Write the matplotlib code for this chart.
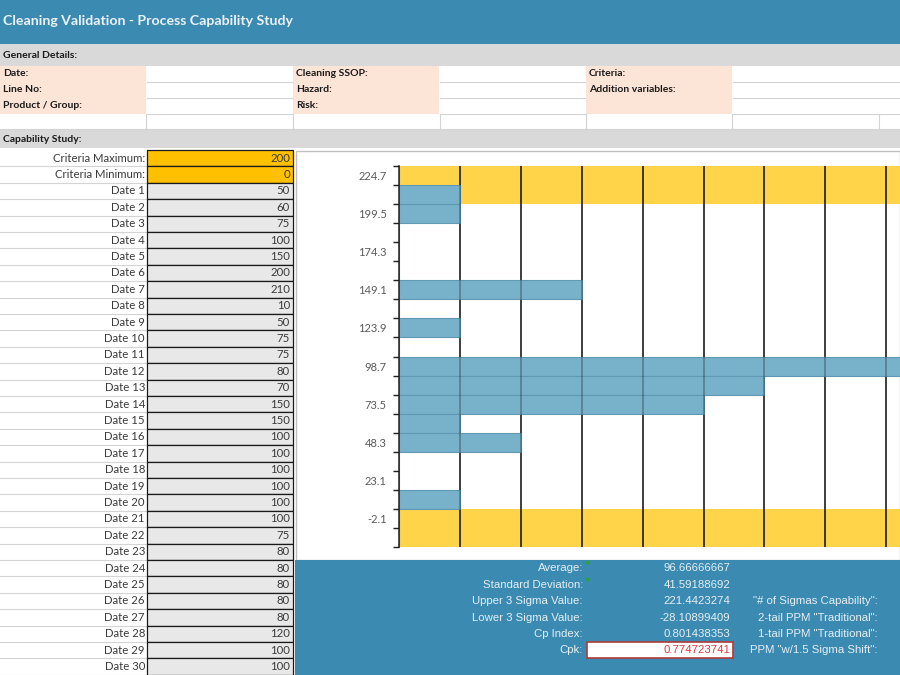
import matplotlib.pyplot as plt
import matplotlib.patches as patches

# values typed on the sheet
criteria_max = 200
criteria_min = 0
dates = ["Date %d" % i for i in range(1, 31)]
readings = [50, 60, 75, 100, 150, 200, 210, 10, 50, 75, 75, 80, 70, 150, 150,
            100, 100, 100, 100, 100, 100, 75, 80, 80, 80, 80, 80, 120, 100, 100]

# histogram shown in the chart (bin centres, top to bottom)
bin_labels = [224.7, 212.1, 199.5, 186.9, 174.3, 161.7, 149.1, 136.5, 123.9, 111.3,
              98.7, 86.1, 73.5, 60.9, 48.3, 35.7, 23.1, 10.5, -2.1, -14.7]
bin_counts = [0, 1, 1, 0, 0, 0, 3, 0, 1, 0, 9, 6, 5, 1, 2, 0, 0, 1, 0, 0]

stat_names = ["Average:", "Standard Deviation:", "Upper 3 Sigma Value:",
              "Lower 3 Sigma Value:", "Cp Index:", "Cpk:"]
stat_values = ["96.66666667", "41.59188692", "221.4423274", "-28.10899409",
               "0.801438353", "0.774723741"]
ppm_names = ['"# of Sigmas Capability":', '2-tail PPM "Traditional":',
             '1-tail PPM "Traditional":', 'PPM "w/1.5 Sigma Shift":']

TEAL = "#3A8AB2"
GREY = "#D9D9D9"
PEACH = "#FCE4D6"
LINE = "#D4D4D4"
SHEET_FONT = ["Lato", "DejaVu Sans"]
NARROW_FONT = ["Liberation Sans Narrow", "Liberation Sans", "DejaVu Sans"]

fig = plt.figure(figsize=(9, 6.75), dpi=100)
fig.patch.set_facecolor("white")

# whole sheet drawn in pixel coordinates
sh = fig.add_axes([0, 0, 1, 1])
sh.set_xlim(0, 900)
sh.set_ylim(675, 0)
sh.axis("off")


def rect(x0, y0, x1, y1, fc, ec="none", lw=0, z=1):
    sh.add_patch(patches.Rectangle((x0, y0), x1 - x0, y1 - y0, fc=fc, ec=ec, lw=lw, zorder=z))


def hline(y, x0, x1, c=LINE, lw=0.8, z=2):
    sh.plot([x0, x1], [y, y], color=c, lw=lw, zorder=z)


def vline(x, y0, y1, c=LINE, lw=0.8, z=2):
    sh.plot([x, x], [y0, y1], color=c, lw=lw, zorder=z)


# title bar
rect(0, 0, 900, 44, TEAL)
sh.text(3, 21, "Cleaning Validation - Process Capability Study", color="#EAF2F8",
        fontsize=10.2, fontweight="bold", va="center", family=SHEET_FONT)

# general details block
rect(0, 44, 900, 66, GREY)
bold = dict(fontsize=7.5, fontweight="bold", va="center", family=SHEET_FONT, color="#1A1A1A")
sh.text(3, 56, "General Details:", **bold)
rect(0, 66, 146, 114, PEACH)
rect(293, 66, 439, 114, PEACH)
rect(586, 66, 732, 114, PEACH)
for y in [82, 98, 114]:
    hline(y, 147, 292)
    hline(y, 440, 585)
    hline(y, 733, 900)
hline(129, 0, 900)
for x in [146, 293, 440, 586, 732, 879]:
    vline(x, 114, 129)
detail_rows = [74, 90, 106]
for y, t in zip(detail_rows, ["Date:", "Line No:", "Product / Group:"]):
    sh.text(3, y, t, **bold)
for y, t in zip(detail_rows, ["Cleaning SSOP:", "Hazard:", "Risk:"]):
    sh.text(296, y, t, **bold)
for y, t in zip(detail_rows[:2], ["Criteria:", "Addition variables:"]):
    sh.text(589, y, t, **bold)

# capability study block
rect(0, 129, 900, 148, GREY)
sh.text(3, 139, "Capability Study:", **bold)

row_h = 16.4
top = 150
row_labels = ["Criteria Maximum:", "Criteria Minimum:"] + dates
row_values = [criteria_max, criteria_min] + readings
for k, (lab, val) in enumerate(zip(row_labels, row_values)):
    y0 = top + k * row_h
    y1 = y0 + row_h
    hline(y1, 0, 146)
    fc = "#FFC000" if k < 2 else "#E8E8E8"
    rect(147, y0, 293, y1, fc, ec="#1A1A1A", lw=0.9, z=3)
    sh.text(145, (y0 + y1) / 2, lab, fontsize=8.2, ha="right", va="center",
            color="#3A3A3A", family=SHEET_FONT)
    sh.text(290, (y0 + y1) / 2, str(val), fontsize=8.2, ha="right", va="center",
            color="#3A3A3A", family=SHEET_FONT, zorder=4)

# chart area and the stats panel under it
rect(296, 151, 900, 560, "white", ec="#BFBFBF", lw=1)
rect(295, 560, 900, 675, TEAL)

stat_y = [568, 585, 601, 618, 634, 650]
txt = "#E6EFF5"
for y, n, v in zip(stat_y, stat_names, stat_values):
    sh.text(583, y, n, fontsize=8.2, ha="right", va="center", color=txt, family=NARROW_FONT)
    if n == "Cpk:":
        rect(587, y - 8, 733, y + 8, "white", ec="#B03A3A", lw=1.2, z=3)
        sh.text(730, y, v, fontsize=8.2, ha="right", va="center", color="#E03C3C",
                family=NARROW_FONT, zorder=4)
    else:
        sh.text(730, y, v, fontsize=8.2, ha="right", va="center", color=txt, family=NARROW_FONT)
for y, n in zip(stat_y[2:], ppm_names):
    sh.text(878, y, n, fontsize=8.2, ha="right", va="center", color=txt, family=NARROW_FONT)
for y in stat_y[:2]:
    sh.plot([587], [y - 6], marker=(3, 0, 180), ms=3, color="#2EA043", zorder=4)

# histogram chart (runs off the right edge like the screenshot)
ax = fig.add_axes([399 / 900, 1 - 547 / 675, 609 / 900, 381 / 675])
ax.set_facecolor("none")
pos = list(range(len(bin_labels)))
spec = [10 if (b > criteria_max or b < criteria_min) else 0 for b in bin_labels]
ax.barh(pos, spec, height=1.0, color="#FFD449", lw=0, zorder=1)
ax.vlines(range(1, 11), -0.5, len(pos) - 0.5, color="#1E1E1E", lw=1.1, zorder=2)
ax.barh(pos, bin_counts, height=1.0, color="#78B1CA",
        edgecolor="#5F98B2", lw=0.8, zorder=3)
# grid shows faintly through the filled bands
ax.vlines(range(1, 11), -0.5, len(pos) - 0.5, color="#1E1E1E", lw=1.1, alpha=0.4, zorder=4)
ax.set_xlim(0, 10)
ax.set_ylim(len(pos) - 0.5, -0.5)
ax.set_yticks(pos[::2])
ax.set_yticklabels(["%.1f" % b for b in bin_labels[::2]], fontsize=8, color="#595959",
                   family=SHEET_FONT)
ax.set_yticks([p - 0.5 for p in pos] + [len(pos) - 0.5], minor=True)
ax.tick_params(axis="y", which="major", length=0, pad=9)
ax.tick_params(axis="y", which="minor", length=4, width=1, color="#1E1E1E")
ax.set_xticks([])
for s in ["top", "right", "bottom"]:
    ax.spines[s].set_visible(False)
ax.spines["left"].set_color("#1E1E1E")
ax.spines["left"].set_linewidth(1.1)
ax.spines["left"].set_zorder(5)

fig.savefig("out.png", dpi=100)
